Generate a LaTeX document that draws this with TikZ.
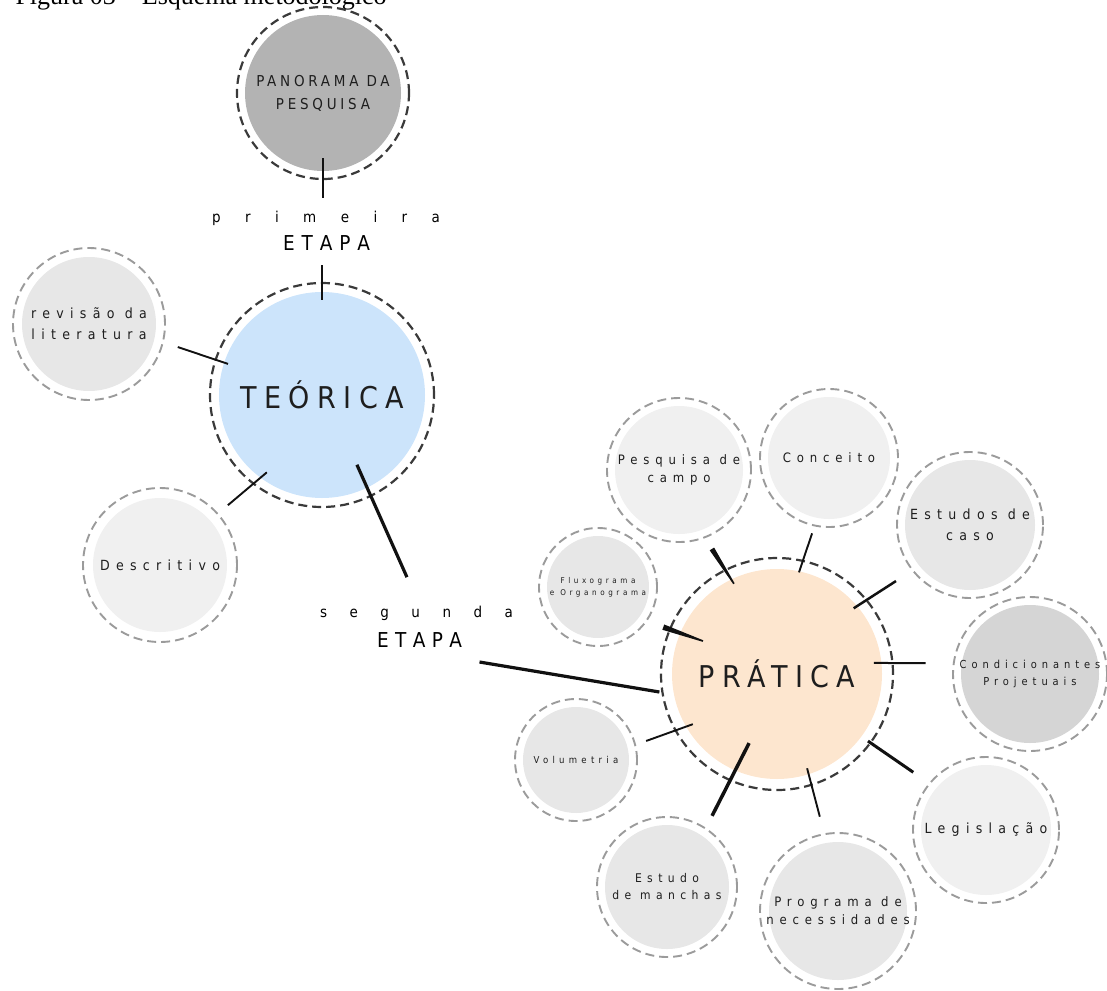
\documentclass[tikz,border=0pt]{standalone}
\usepackage{fontspec}
\setmainfont{Liberation Serif}
\newfontfamily\capsfont[LetterSpace=25]{DejaVu Sans Condensed}
\newfontfamily\labelfont[LetterSpace=45]{DejaVu Sans Condensed}
\newfontfamily\plainsans{DejaVu Sans Condensed}
\usetikzlibrary{calc}

\definecolor{ringdark}{HTML}{3A3A3A}
\definecolor{ringlight}{HTML}{9B9B9B}
\definecolor{inkgray}{HTML}{1E1E1E}
\definecolor{inkblack}{HTML}{111111}
\definecolor{panoramagray}{HTML}{B3B3B3}
\definecolor{teoricablue}{HTML}{CCE4FB}
\definecolor{praticapeach}{HTML}{FDE6CF}
\definecolor{lightfill}{HTML}{F0F0F0}
\definecolor{midfill}{HTML}{E7E7E7}
\definecolor{darkfill}{HTML}{D5D5D5}

\tikzset{
  bubble/.style n args = {3}{shape=circle, inner sep=0pt, outer sep=0pt,
                     align=center, minimum size=2*#1pt, text=inkgray,
                     dash pattern=on 9pt off 5pt,
                     path picture={\fill[#3] (path picture bounding box.center)
                                   circle[radius=#1pt-#2pt];}},
  stage/.style  = {draw=ringdark, line width=2.2pt},
  topic/.style  = {draw=ringlight, line width=1.9pt},
  spoke/.style  = {draw=inkblack, line width=1.9pt},
  heavy/.style  = {spoke, line width=3.2pt},
  wedge/.style  = {fill=inkblack}
}

\begin{document}
\begin{tikzpicture}[x=1pt, y=-1pt]
  \useasboundingbox (0,0) rectangle (1107,990);

  \node [anchor=base west, font=\fontsize{26}{30}\selectfont] (caption) at (12,5)
    {Figura 03 – Esquema metodológico};

  % primeira etapa
  \node [bubble={86}{8}{panoramagray}, stage, font=\capsfont\fontsize{15}{23}\selectfont]
    (panorama) at (323,93) {PANORAMA DA\\PESQUISA};
  \node [anchor=base, font=\plainsans\fontsize{15}{18}\selectfont] (primeira) at (326,222)
    {\makebox[228pt][s]{p\hfil r\hfil i\hfil m\hfil e\hfil i\hfil r\hfil a}};
  \node [anchor=base, font=\plainsans\fontsize{20.5}{24}\selectfont] (etapa1) at (326.5,250)
    {\makebox[87pt][s]{E\hfil T\hfil A\hfil P\hfil A}};
  \node [bubble={112}{9}{teoricablue}, stage, font=\capsfont\fontsize{30}{36}\selectfont]
    (teorica) at (322,395) {TEÓRICA};
  \node [bubble={76}{9}{midfill}, topic, font=\labelfont\fontsize{14}{21}\selectfont]
    (revisao) at (89,324) {revisão da\\literatura};
  \node [bubble={77}{10}{lightfill}, topic, font=\labelfont\fontsize{14}{21}\selectfont]
    (descritivo) at (160,565) {Descritivo};

  % segunda etapa
  \node [anchor=base, font=\plainsans\fontsize{15}{18}\selectfont] (segunda) at (416.5,617)
    {\makebox[193pt][s]{s\hfil e\hfil g\hfil u\hfil n\hfil d\hfil a}};
  \node [anchor=base, font=\plainsans\fontsize{20.5}{24}\selectfont] (etapa2) at (419.5,647)
    {\makebox[85pt][s]{E\hfil T\hfil A\hfil P\hfil A}};
  \node [bubble={116}{11}{praticapeach}, stage, font=\capsfont\fontsize{30}{36}\selectfont]
    (pratica) at (777,674) {PRÁTICA};
  \node [bubble={72}{8}{lightfill}, topic, font=\labelfont\fontsize{13}{18}\selectfont]
    (pesquisa) at (679,470) {Pesquisa de\\campo};
  \node [bubble={69}{8}{lightfill}, topic, font=\labelfont\fontsize{13}{18}\selectfont]
    (conceito) at (829,458) {Conceito};
  \node [bubble={73}{8}{midfill}, topic, font=\labelfont\fontsize{14}{21}\selectfont]
    (estudos) at (970,525) {Estudos de\\caso};
  \node [bubble={59}{8}{midfill}, topic, font=\labelfont\fontsize{8}{12}\selectfont]
    (fluxograma) at (598,587) {Fluxograma\\e Organograma};
  \node [bubble={77}{8}{darkfill}, topic, font=\labelfont\fontsize{11}{17}\selectfont]
    (condicionantes) at (1030,674) {Condicionantes\\Projetuais};
  \node [bubble={73}{8}{lightfill}, topic, font=\labelfont\fontsize{14}{21}\selectfont]
    (legislacao) at (986,830) {Legislação};
  \node [bubble={61}{8}{midfill}, topic, font=\labelfont\fontsize{9.5}{14}\selectfont]
    (volumetria) at (576,760) {Volumetria};
  \node [bubble={70}{8}{midfill}, topic, font=\labelfont\fontsize{12}{17}\selectfont]
    (manchas) at (667,887) {Estudo\\de manchas};
  \node [bubble={78}{9}{midfill}, topic, font=\labelfont\fontsize{13}{18}\selectfont]
    (programa) at (838,911) {Programa de\\necessidades};

  % ligacoes da etapa teorica
  \draw [spoke] ([yshift=21pt]panorama.south) -- ([yshift=-19pt]panorama.south);
  \draw [spoke] ([yshift=18pt]teorica.north) -- ([yshift=-17pt]teorica.north);
  \draw [spoke] ($(teorica.center)+(161.6:152pt)$) -- ($(teorica.center)+(161.7:99pt)$);
  \draw [spoke] ($(teorica.center)+(-130.5:145pt)$) -- ($(teorica.center)+(-125.5:95pt)$);
  \draw [heavy] ($(teorica.center)+(-63.4:78pt)$) -- ($(teorica.center)+(-65:201pt)$);
  \draw [heavy] ([shift={(60pt,-15pt)}]etapa2.base) -- ($(pratica.center)+(-171.3:119pt)$);

  % ligacoes da etapa pratica
  \coordinate (pesqA) at ($(pratica.center)+(117.5:141pt)$);
  \coordinate (pesqB) at ($(pratica.center)+(115.5:100pt)$);
  \fill [wedge] ($(pesqA)!2.6pt!90:(pesqB)$) -- ($(pesqA)!2.6pt!-90:(pesqB)$)
    -- ($(pesqB)!0.8pt!90:(pesqA)$) -- ($(pesqB)!0.8pt!-90:(pesqA)$) -- cycle;
  \coordinate (fluxA) at ($(pratica.center)+(157.6:123pt)$);
  \coordinate (fluxB) at ($(pratica.center)+(156:81pt)$);
  \fill [wedge] ($(fluxA)!2.8pt!90:(fluxB)$) -- ($(fluxA)!2.8pt!-90:(fluxB)$)
    -- ($(fluxB)!0.8pt!90:(fluxA)$) -- ($(fluxB)!0.8pt!-90:(fluxA)$) -- cycle;
  \draw [spoke] ($(pratica.center)+(76:145pt)$) -- ($(pratica.center)+(77.8:104pt)$);
  \draw [spoke, line width=2.5pt] ($(pratica.center)+(38:151pt)$) -- ($(pratica.center)+(40.6:101pt)$);
  \draw [spoke, line width=2pt] ($(pratica.center)+(4.2:149pt)$) -- ($(pratica.center)+(6.5:97.6pt)$);
  \draw [heavy, line width=3pt] ($(pratica.center)+(-35.8:168pt)$) -- ($(pratica.center)+(-36.4:113pt)$);
  \draw [spoke] ($(pratica.center)+(-73.3:149pt)$) -- ($(pratica.center)+(-72.3:99pt)$);
  \draw [heavy, line width=3.5pt] ($(pratica.center)+(-114.6:156pt)$) -- ($(pratica.center)+(-112:74.5pt)$);
  \draw [spoke] ($(pratica.center)+(-152.9:147pt)$) -- ($(pratica.center)+(-149.2:98pt)$);
\end{tikzpicture}
\end{document}
